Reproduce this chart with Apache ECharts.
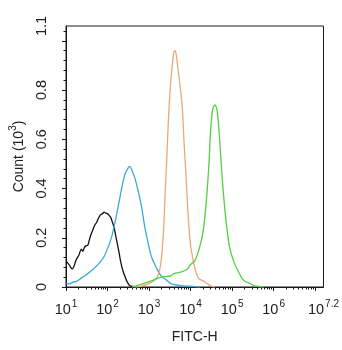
<!DOCTYPE html>
<html>
<head>
<meta charset="utf-8">
<script src="https://cdn.jsdelivr.net/npm/echarts@6/dist/echarts.min.js"></script>
<style>html,body{margin:0;padding:0;background:#fff;}#c{width:342px;height:350px;}</style>
</head>
<body>
<div id="c"></div>
<script>
// x values are log10(FITC-H) (decade exponents), y values are Count (10^3)
const blackX = [1.007,1.078,1.148,1.195,1.242,1.313,1.367,1.407,1.442,1.478,1.525,1.56,1.595,1.642,1.689,1.736,1.784,1.831,1.878,1.918,1.96,1.995,2.042,2.073,2.113,2.153,2.184,2.231,2.278,2.308,2.348,2.388,2.431,2.466,2.513,2.544,2.607,2.701];
const blackY = [0.104,0.09,0.073,0.085,0.11,0.13,0.154,0.145,0.16,0.167,0.17,0.19,0.21,0.23,0.25,0.262,0.28,0.293,0.298,0.304,0.30,0.298,0.29,0.284,0.265,0.245,0.22,0.18,0.14,0.11,0.08,0.057,0.038,0.023,0.01,0.005,0.002,0];

const blueX = [1.007,1.094,1.17,1.249,1.367,1.485,1.642,1.8,1.918,2.035,2.113,2.191,2.271,2.348,2.426,2.506,2.536,2.584,2.661,2.741,2.819,2.896,2.976,3.054,3.172,3.289,3.407,3.525,3.76,3.995,4.23];
const blueY = [0.015,0.013,0.02,0.023,0.036,0.05,0.07,0.097,0.124,0.171,0.212,0.272,0.34,0.407,0.461,0.486,0.49,0.475,0.441,0.387,0.325,0.245,0.18,0.125,0.08,0.045,0.03,0.014,0.006,0.003,0];

const orangeX = [2.654,2.819,2.936,3.054,3.172,3.249,3.306,3.353,3.384,3.424,3.461,3.508,3.565,3.595,3.626,3.654,3.682,3.744,3.8,3.838,3.894,3.941,3.995,4.059,4.113,4.191,4.308,4.388,4.506,4.584];
const orangeY = [0,0.004,0.01,0.019,0.034,0.065,0.13,0.24,0.37,0.51,0.66,0.8,0.91,0.95,0.96,0.945,0.905,0.82,0.73,0.6,0.44,0.29,0.175,0.11,0.07,0.035,0.025,0.015,0.003,0];

const greenX = [2.584,2.701,2.819,3.054,3.289,3.525,3.602,3.76,3.918,3.995,4.113,4.231,4.308,4.388,4.442,4.482,4.529,4.584,4.638,4.701,4.765,4.842,4.936,5.054,5.212,5.289,5.407,5.525,5.642,5.76];
const greenY = [0,0.005,0.012,0.025,0.04,0.045,0.055,0.06,0.072,0.09,0.11,0.17,0.232,0.367,0.502,0.637,0.718,0.74,0.718,0.596,0.434,0.286,0.164,0.097,0.043,0.025,0.016,0.006,0.002,0];

const xMajorTicks = [1,2,3,4,5,6,7];
const xLabelValues = [1,2,3,4,5,6,7.2];
const xLabelTexts = ['1','2','3','4','5','6','7.2'];
const yLabelValues = [0,0.2,0.4,0.6,0.8,1.06];
const yLabelTexts = ['0','0.2','0.4','0.6','0.8','1.1'];
const yMajorTicks = [0,0.2,0.4,0.6,0.8,1.0];
const yMinorStep = 0.04;

const X_MIN = 1, X_MAX = 7.2, Y_MIN = 0, Y_MAX = 1.06;

const xMinorTicks = [];
for (let n = 1; n <= 7; n++) {
  for (let k = 2; k <= 9; k++) {
    const v = n + Math.log10(k);
    if (v < X_MAX) xMinorTicks.push(+v.toFixed(4));
  }
}
const yMinorTicks = [];
for (let i = 1; i * yMinorStep < Y_MAX; i++) {
  const v = +(i * yMinorStep).toFixed(3);
  if (Math.abs(v / 0.2 - Math.round(v / 0.2)) > 1e-6) yMinorTicks.push(v);
}

function zip(xs, ys) { return xs.map((x, i) => [x, ys[i]]); }

const chart = echarts.init(document.getElementById('c'), null, {renderer: 'canvas'});
const FONT = 'Liberation Sans, Arial, sans-serif';
const lineCol = '#1a1a1a';

const seriesDefs = [
  {name: 'black', x: blackX, y: blackY, color: '#111111'},
  {name: 'blue', x: blueX, y: blueY, color: '#3aaad8'},
  {name: 'orange', x: orangeX, y: orangeY, color: '#e9a878'},
  {name: 'green', x: greenX, y: greenY, color: '#52cf3f'}
];

chart.setOption({
  animation: false,
  backgroundColor: '#fff',
  grid: {left: 63, top: 26, width: 263, height: 261, show: true, borderColor: lineCol, borderWidth: 1, containLabel: false},
  xAxis: [{
    type: 'value', min: X_MIN, max: X_MAX,
    name: 'FITC-H', nameLocation: 'middle', nameGap: 43,
    nameTextStyle: {fontFamily: FONT, fontSize: 14, color: '#222'},
    axisLine: {show: true, lineStyle: {color: lineCol, width: 1}},
    axisTick: {show: true, inside: false, length: 4, customValues: xMajorTicks, lineStyle: {color: lineCol}},
    axisLabel: {
      show: true, customValues: xLabelValues, margin: 12, color: '#222', fontFamily: FONT,
      formatter: function (v) {
        const i = xLabelValues.findIndex(t => Math.abs(t - v) < 1e-6);
        return '{b|10}{s|' + xLabelTexts[i] + '}';
      },
      rich: {
        b: {fontSize: 14.5, fontFamily: FONT, color: '#222', lineHeight: 18, verticalAlign: 'bottom'},
        s: {fontSize: 10, fontFamily: FONT, color: '#222', lineHeight: 18, verticalAlign: 'top', padding: [0, 0, 0, 1]}
      }
    },
    splitLine: {show: false}
  }, {
    type: 'value', min: X_MIN, max: X_MAX, position: 'bottom',
    axisLine: {show: false},
    axisTick: {show: true, length: 2.5, customValues: xMinorTicks, lineStyle: {color: lineCol}},
    axisLabel: {show: false},
    splitLine: {show: false}
  }],
  yAxis: [{
    type: 'value', min: Y_MIN, max: Y_MAX, position: 'left',
    name: '{t|Count (10}{s|3}{t|)}', nameLocation: 'middle', nameGap: 40, nameRotate: 90,
    nameTextStyle: {
      fontFamily: FONT, fontSize: 14, color: '#222',
      rich: {
        t: {fontSize: 14, fontFamily: FONT, color: '#222', lineHeight: 18, verticalAlign: 'bottom'},
        s: {fontSize: 10, fontFamily: FONT, color: '#222', lineHeight: 18, verticalAlign: 'top'}
      }
    },
    axisLine: {show: true, lineStyle: {color: lineCol, width: 1}},
    axisTick: {show: true, length: 4, customValues: yMajorTicks, lineStyle: {color: lineCol}},
    axisLabel: {
      show: true, customValues: yLabelValues, rotate: 90, margin: 17,
      fontSize: 14.5, fontFamily: FONT, color: '#222',
      formatter: function (v) {
        const i = yLabelValues.findIndex(t => Math.abs(t - v) < 1e-6);
        return yLabelTexts[i];
      }
    },
    splitLine: {show: false}
  }, {
    type: 'value', min: Y_MIN, max: Y_MAX, position: 'left', offset: 0,
    axisLine: {show: false},
    axisTick: {show: true, length: 2.5, customValues: yMinorTicks, lineStyle: {color: lineCol}},
    axisLabel: {show: false},
    splitLine: {show: false}
  }],
  series: seriesDefs.map(s => ({
    name: s.name, type: 'line', xAxisIndex: 0, yAxisIndex: 0,
    data: zip(s.x, s.y), showSymbol: false, symbol: 'none', smooth: 0.3,
    lineStyle: {color: s.color, width: 1.3}, itemStyle: {color: s.color}
  }))
});
</script>
</body>
</html>
